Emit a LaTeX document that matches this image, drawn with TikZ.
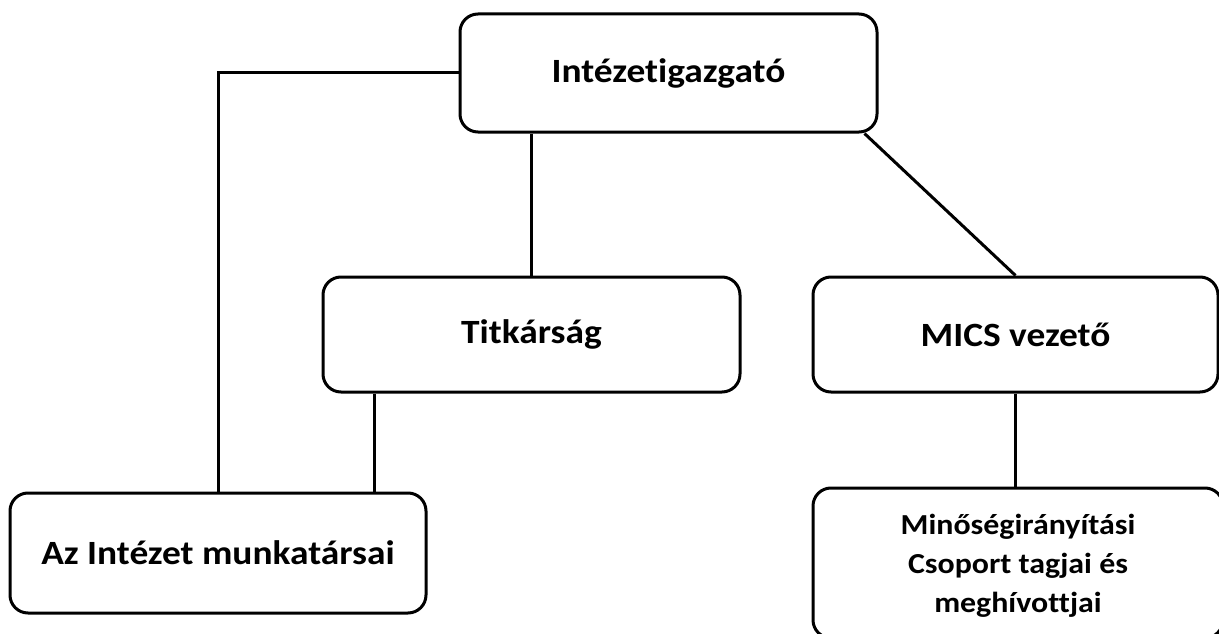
\documentclass[tikz,border=0pt]{standalone}
\usepackage{fontspec}
\setmainfont{Carlito}[Ligatures=NoCommon,FakeStretch=1.1]
\usetikzlibrary{calc}
\begin{document}
\begin{tikzpicture}[x=1pt,y=-1pt,
  box/.style={draw=black,line width=3pt,rounded corners=18pt,inner sep=0pt,
    font=\fontsize{34}{40}\selectfont\bfseries,align=center},
  boxtext/.style={inner sep=0pt,font=\fontsize{29}{39}\selectfont\bfseries,align=center},
  link/.style={draw=black,line width=3pt}]
\useasboundingbox (0,0) rectangle (1219,634);
\clip (0,0) rectangle (1219,634);
\fill[white] (0,0) rectangle (1219,634);
\node[box,minimum width=417pt,minimum height=118pt] (top) at (668.5,73) {Intézetigazgató};
\node[box,minimum width=417pt,minimum height=115pt] (tit) at (531.5,334.5) {Titkárság};
\node[box,minimum width=405pt,minimum height=115pt] (mics) at (1015.5,334.5) {MICS vezető};
\node[box,minimum width=416pt,minimum height=120pt] (az) at (218,553) {Az Intézet munkatársai};
\node[box,minimum width=410pt,minimum height=150pt] (min) at (1018,563) {};
\node[boxtext] (mintext) at (1018,566) {Minőségirányítási\\Csoport tagjai és\\meghívottjai};
\draw[link] (top.west) -| (az.north);
\draw[link] (top.south -| tit.north) -- (tit.north);
\coordinate (d1) at ($(top.south east)+(-14,0)$);
\draw[link] (d1) -- (mics.north);
\coordinate (t1) at ($(tit.south west)+(53,0)$);
\draw[link] (t1) -- (t1 |- az.north);
\draw[link] (mics.south) -- (mics.south |- min.north);
\end{tikzpicture}
\end{document}
